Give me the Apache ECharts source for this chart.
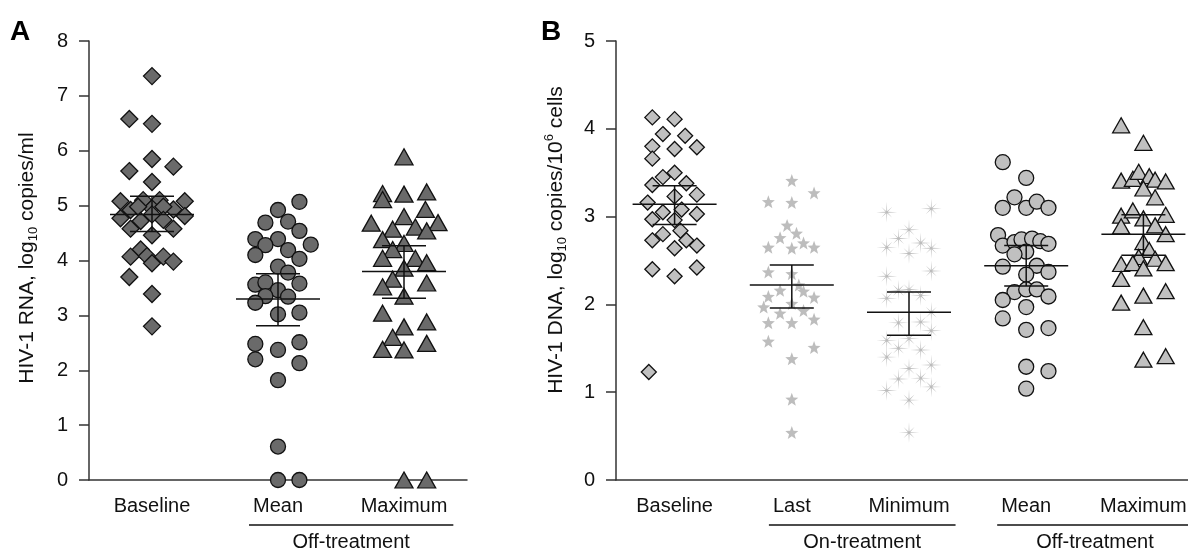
<!DOCTYPE html>
<html>
<head>
<meta charset="utf-8">
<script src="https://cdn.jsdelivr.net/npm/echarts@6/dist/echarts.min.js"></script>
<style>
  html, body { margin: 0; padding: 0; background: #fff; }
  #main { width: 1188px; height: 552px; }
</style>
</head>
<body>
<div id="main"></div>
<script>
// categories
const catsA = ['Baseline', 'Mean', 'Maximum'];
const catsB = ['Baseline', 'Last', 'Minimum', 'Mean', 'Maximum'];
const groupNamesA = ['Off-treatment'];
const groupSpansA = [[1, 2]];
const groupNamesB = ['On-treatment', 'Off-treatment'];
const groupSpansB = [[1, 2], [3, 4]];
const ticksA = [0, 8];
const ticksB = [0, 5];

// panel A: HIV-1 RNA, [x offset in category units, value]
const rnaBaseline = [
  [0, 7.36], [-0.18, 6.58], [0, 6.49], [0, 5.85], [-0.18, 5.63], [0.17, 5.71], [0, 5.43],
  [-0.25, 5.08], [-0.07, 5.10], [0.06, 5.10], [0.26, 5.08], [-0.17, 4.92], [0, 4.95],
  [0.17, 4.93], [-0.11, 4.98], [0.09, 4.98], [-0.25, 4.77], [-0.09, 4.72], [0.09, 4.74],
  [0.26, 4.81], [0, 4.84], [-0.17, 4.58], [0.17, 4.58], [0, 4.46], [-0.09, 4.20],
  [-0.17, 4.07], [-0.04, 4.08], [0, 3.95], [0.09, 4.07], [0.17, 3.98], [-0.18, 3.70],
  [0, 3.39], [0, 2.80]
];
const rnaMean = [
  [0.17, 5.07], [0, 4.92], [-0.10, 4.69], [0.08, 4.71], [0.17, 4.54], [-0.18, 4.39],
  [0, 4.39], [-0.10, 4.28], [0.26, 4.29], [-0.18, 4.10], [0.08, 4.19], [0.17, 4.03],
  [0, 3.89], [0.08, 3.78], [-0.18, 3.56], [-0.10, 3.60], [0, 3.46], [0.17, 3.58],
  [-0.10, 3.35], [-0.18, 3.23], [0.08, 3.34], [0, 3.02], [0.17, 3.05], [-0.18, 2.48],
  [0, 2.37], [0.17, 2.51], [-0.18, 2.20], [0.17, 2.13], [0, 1.82], [0, 0.61], [0, 0], [0.17, 0]
];
const rnaMax = [
  [0, 5.89], [-0.17, 5.22], [-0.17, 5.11], [0, 5.21], [0.18, 5.25], [0.17, 4.93],
  [-0.26, 4.68], [0, 4.80], [-0.09, 4.57], [0.09, 4.61], [0.27, 4.69], [0.18, 4.54],
  [-0.17, 4.38], [0, 4.31], [-0.09, 4.20], [-0.17, 4.04], [0.09, 4.04], [0.18, 3.96],
  [0, 3.86], [-0.09, 3.66], [-0.17, 3.52], [0.18, 3.59], [0, 3.35], [-0.17, 3.04],
  [0.18, 2.88], [0, 2.79], [-0.09, 2.60], [-0.17, 2.38], [0, 2.37], [0.18, 2.49], [0, 0], [0.18, 0]
];
const rnaCenter = [4.84, 3.30, 3.80];
const rnaLow = [4.53, 2.81, 3.31];
const rnaHigh = [5.17, 3.76, 4.27];

// panel B: HIV-1 DNA
const dnaBaseline = [
  [-0.19, 4.13], [0, 4.11], [-0.10, 3.94], [0.09, 3.92], [-0.19, 3.80], [0, 3.77],
  [0.19, 3.79], [-0.19, 3.66], [0, 3.50], [-0.10, 3.45], [0.10, 3.38], [-0.19, 3.36],
  [0.19, 3.25], [0, 3.23], [-0.23, 3.16], [-0.10, 3.05], [0.06, 3.08], [-0.19, 2.97],
  [0, 2.96], [0.19, 3.03], [0.05, 2.84], [-0.10, 2.80], [-0.19, 2.73], [0.10, 2.73],
  [0.19, 2.67], [0, 2.64], [-0.19, 2.40], [0, 2.32], [0.19, 2.42], [-0.22, 1.23]
];
const dnaLast = [
  [0, 3.41], [0.19, 3.27], [-0.20, 3.17], [0, 3.16], [-0.04, 2.90], [0.04, 2.81],
  [-0.10, 2.76], [0.10, 2.70], [-0.20, 2.65], [0, 2.64], [0.19, 2.65], [-0.20, 2.37],
  [0, 2.35], [0.06, 2.22], [-0.10, 2.16], [0.10, 2.15], [-0.20, 2.09], [0.19, 2.08],
  [-0.24, 1.97], [-0.10, 1.90], [0.10, 1.93], [0, 2.01], [-0.20, 1.79], [0, 1.79],
  [0.19, 1.83], [-0.20, 1.58], [0.19, 1.51], [0, 1.38], [0, 0.92], [0, 0.54]
];
const dnaMin = [
  [-0.19, 3.05], [0.19, 3.09], [0, 2.85], [-0.09, 2.75], [0.10, 2.70], [-0.19, 2.65],
  [0.19, 2.64], [0, 2.58], [-0.19, 2.32], [0.19, 2.38], [-0.09, 2.16], [0, 2.17],
  [0.10, 2.10], [-0.19, 2.07], [0.19, 1.91], [-0.09, 1.79], [0.10, 1.80], [0.19, 1.70],
  [-0.19, 1.59], [0, 1.61], [-0.09, 1.50], [0.10, 1.48], [-0.19, 1.40], [0.19, 1.31],
  [0, 1.27], [-0.09, 1.15], [0.10, 1.16], [0.19, 1.06], [-0.19, 1.02], [0, 0.91], [0, 0.54]
];
const dnaMean = [
  [-0.20, 3.62], [0, 3.44], [-0.10, 3.22], [-0.20, 3.10], [0, 3.10], [0.09, 3.17],
  [0.19, 3.10], [-0.24, 2.79], [-0.20, 2.67], [-0.10, 2.71], [-0.04, 2.74], [0.05, 2.75],
  [0.12, 2.72], [0.19, 2.69], [0, 2.60], [-0.10, 2.57], [-0.20, 2.43], [0.09, 2.44],
  [0, 2.34], [0.19, 2.37], [-0.10, 2.14], [0, 2.17], [0.09, 2.17], [-0.20, 2.05],
  [0.19, 2.09], [0, 1.97], [-0.20, 1.84], [0, 1.71], [0.19, 1.73], [0, 1.29], [0.19, 1.24], [0, 1.04]
];
const dnaMax = [
  [-0.19, 4.04], [0, 3.84], [-0.19, 3.41], [-0.09, 3.43], [-0.04, 3.51], [0.05, 3.46],
  [0.10, 3.42], [0.19, 3.40], [0, 3.32], [0.10, 3.22], [-0.19, 3.01], [-0.09, 3.07],
  [0, 2.98], [0.19, 3.02], [-0.19, 2.89], [0.10, 2.90], [0.19, 2.80], [0, 2.71],
  [0.05, 2.62], [-0.04, 2.54], [0.10, 2.52], [-0.19, 2.46], [-0.09, 2.47], [0, 2.41],
  [0.19, 2.47], [-0.19, 2.29], [0, 2.10], [0.19, 2.15], [-0.19, 2.02], [0, 1.74], [0, 1.37], [0.19, 1.41]
];
const dnaCenter = [3.14, 2.22, 1.91, 2.44, 2.80];
const dnaLow = [2.91, 1.96, 1.65, 2.21, 2.56];
const dnaHigh = [3.35, 2.45, 2.14, 2.67, 3.02];

const fontFam = '"Liberation Sans", Arial, Helvetica, sans-serif';
const ink = '#111';
const axisColor = '#333';

// symbol shapes
function starPath(points, outer, inner) {
  let d = '';
  for (let k = 0; k < points * 2; k++) {
    const r = k % 2 === 0 ? outer[(k / 2) % outer.length] : inner;
    const a = -Math.PI / 2 + k * Math.PI / points;
    d += (k === 0 ? 'M' : 'L') + (r * Math.cos(a) * 100).toFixed(2) + ' ' + (r * Math.sin(a) * 100).toFixed(2) + ' ';
  }
  return 'path://' + d + 'Z';
}
const starSymbol = starPath(5, [1], 0.42);
const asteriskSymbol = starPath(8, [1, 0.75], 0.11);

const chart = echarts.init(document.getElementById('main'));

function toPoints(arr, idx) {
  return arr.map(p => [idx + p[0], p[1]]);
}

function dotSeries(arr, idx, xi, yi, symbol, size, color, border) {
  return {
    type: 'scatter',
    xAxisIndex: xi,
    yAxisIndex: yi,
    data: toPoints(arr, idx),
    symbol: symbol,
    symbolSize: size,
    itemStyle: {
      color: color,
      borderColor: border ? ink : 'transparent',
      borderWidth: border ? 1.3 : 0,
      opacity: 1
    },
    emphasis: { disabled: true },
    z: 2
  };
}

function errorSeries(center, low, high, xi, yi) {
  return {
    type: 'custom',
    xAxisIndex: xi,
    yAxisIndex: yi,
    data: center.map((m, i) => [i, m, low[i], high[i]]),
    encode: { x: 0, y: [1, 2, 3] },
    z: 5,
    renderItem: function (params, api) {
      const x = api.value(0);
      const m = api.coord([x, api.value(1)]);
      const lo = api.coord([x, api.value(2)]);
      const hi = api.coord([x, api.value(3)]);
      const st = { stroke: ink, lineWidth: 1.5 };
      const ln = (x1, y1, x2, y2) => ({ type: 'line', shape: { x1, y1, x2, y2 }, style: st });
      return {
        type: 'group',
        children: [
          ln(m[0] - 42, m[1], m[0] + 42, m[1]),
          ln(m[0], lo[1], m[0], hi[1]),
          ln(m[0] - 22, lo[1], m[0] + 22, lo[1]),
          ln(m[0] - 22, hi[1], m[0] + 22, hi[1])
        ]
      };
    }
  };
}

function catAxis(gridIndex, cats) {
  return {
    type: 'category',
    gridIndex: gridIndex,
    data: cats,
    boundaryGap: true,
    axisLine: { onZero: false, lineStyle: { color: axisColor, width: 1.5 } },
    axisTick: { alignWithLabel: true, length: 10, lineStyle: { color: axisColor, width: 1.5 } },
    axisLabel: { margin: 16, fontSize: 20, color: ink, fontFamily: fontFam },
    splitLine: { show: false }
  };
}

function posAxis(gridIndex, n) {
  return { type: 'value', gridIndex: gridIndex, min: -0.5, max: n - 0.5, show: false };
}

function valAxis(gridIndex, range) {
  return {
    type: 'value',
    gridIndex: gridIndex,
    min: range[0],
    max: range[1],
    interval: 1,
    axisLine: { show: true, onZero: false, lineStyle: { color: axisColor, width: 1.5 } },
    axisTick: { show: true, length: 10, lineStyle: { color: axisColor, width: 1.5 } },
    axisLabel: { margin: 21, fontSize: 20, color: ink, fontFamily: fontFam },
    splitLine: { show: false }
  };
}

const lightGray = '#c0c0c0';
const darkGray = '#6a6a6a';

const option = {
  animation: false,
  backgroundColor: '#fff',
  grid: [
    { left: 89, top: 41, width: 378, height: 439, outerBoundsMode: 'none' },
    { left: 616, top: 41, width: 586, height: 439, outerBoundsMode: 'none' }
  ],
  xAxis: [catAxis(0, catsA), posAxis(0, catsA.length), catAxis(1, catsB), posAxis(1, catsB.length)],
  yAxis: [valAxis(0, ticksA), valAxis(1, ticksB)],
  series: [
    dotSeries(rnaBaseline, 0, 1, 0, 'diamond', 17, darkGray, true),
    dotSeries(rnaMean, 1, 1, 0, 'circle', 15, darkGray, true),
    dotSeries(rnaMax, 2, 1, 0, 'triangle', [18, 16], darkGray, true),
    errorSeries(rnaCenter, rnaLow, rnaHigh, 1, 0),
    dotSeries(dnaBaseline, 0, 3, 1, 'diamond', 15, lightGray, true),
    dotSeries(dnaLast, 1, 3, 1, starSymbol, 13, '#bdbdbd', false),
    dotSeries(dnaMin, 2, 3, 1, asteriskSymbol, 21, '#bcbcbc', false),
    dotSeries(dnaMean, 3, 3, 1, 'circle', 15, lightGray, true),
    dotSeries(dnaMax, 4, 3, 1, 'triangle', [17, 15], lightGray, true),
    errorSeries(dnaCenter, dnaLow, dnaHigh, 3, 1)
  ]
};

chart.setOption(option);

// annotations: panel letters, axis titles, group brackets
const measure = document.createElement('canvas').getContext('2d');
measure.font = '20px ' + fontFam;

function groupGraphics(xi, cats, names, spans) {
  const out = [];
  spans.forEach((s, i) => {
    const c1 = chart.convertToPixel({ xAxisIndex: xi }, s[0]);
    const c2 = chart.convertToPixel({ xAxisIndex: xi }, s[1]);
    const left = c1 - measure.measureText(cats[s[0]]).width / 2 - 4;
    const right = c2 + measure.measureText(cats[s[1]]).width / 2 + 6;
    out.push({
      type: 'line',
      shape: { x1: left, y1: 525, x2: right, y2: 525 },
      style: { stroke: ink, lineWidth: 1.3 }
    });
    out.push({
      type: 'text',
      x: (left + right) / 2,
      y: 542,
      style: { text: names[i], fontSize: 20, fontFamily: fontFam, fill: ink, align: 'center', verticalAlign: 'middle' }
    });
  });
  return out;
}

const richName = {
  a: { fontSize: 21, fontFamily: fontFam, fill: ink, lineHeight: 26 },
  s: { fontSize: 13, fontFamily: fontFam, fill: ink, lineHeight: 12, verticalAlign: 'bottom' },
  p: { fontSize: 13, fontFamily: fontFam, fill: ink, lineHeight: 12, verticalAlign: 'top' }
};

chart.setOption({
  graphic: [
    { type: 'text', x: 10, y: 18, style: { text: 'A', font: 'bold 28px ' + fontFam, fill: '#000' } },
    { type: 'text', x: 541, y: 18, style: { text: 'B', font: 'bold 28px ' + fontFam, fill: '#000' } },
    {
      type: 'text', x: 27, y: 258, rotation: Math.PI / 2,
      style: { text: '{a|HIV-1 RNA, log}{s|10}{a| copies/ml}', rich: richName, align: 'center', verticalAlign: 'middle' }
    },
    {
      type: 'text', x: 556, y: 240, rotation: Math.PI / 2,
      style: { text: '{a|HIV-1 DNA, log}{s|10}{a| copies/10}{p|6}{a| cells}', rich: richName, align: 'center', verticalAlign: 'middle' }
    }
  ].concat(groupGraphics(1, catsA, groupNamesA, groupSpansA), groupGraphics(3, catsB, groupNamesB, groupSpansB))
});
</script>
</body>
</html>
